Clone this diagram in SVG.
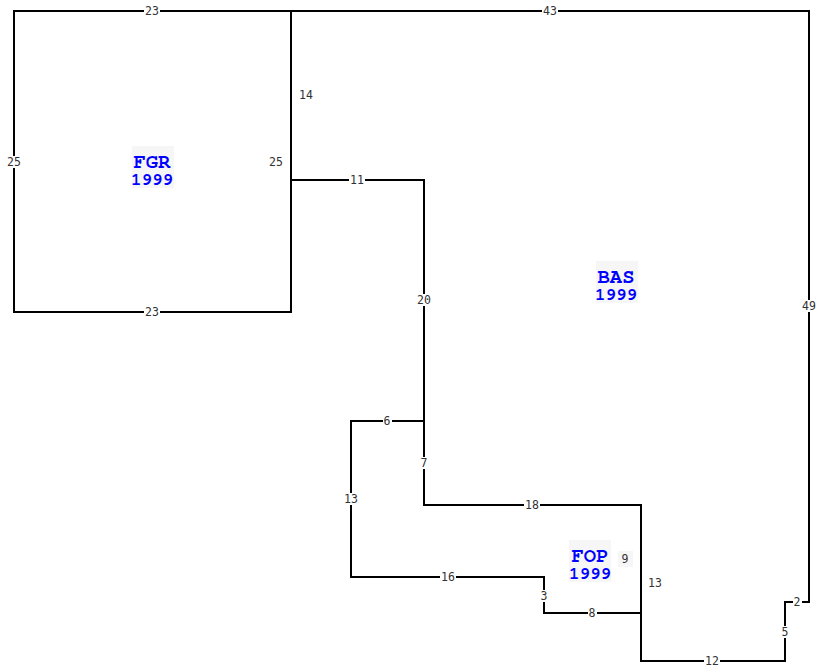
<svg xmlns="http://www.w3.org/2000/svg" width="825" height="671" viewBox="0 0 825 671">
<style>
.w{stroke:#000;stroke-width:2;fill:none;stroke-linecap:square}
.d{font-family:"DejaVu Sans Mono",monospace;font-size:11.5px;fill:#333;text-anchor:middle;dominant-baseline:central}
.bg{fill:#fff}
.tb{fill:#f6f6f6}
.t{font-family:"Nimbus Mono PS","FreeMono","Courier New","Liberation Mono",monospace;font-weight:bold;fill:#00f;text-anchor:middle}
.t1{font-size:20.5px}
.t2{font-size:17.5px}
</style>
<rect width="825" height="671" fill="#fff"/>
<g id="connectors">
<path class="w" d="M14 11H291V312H14Z"/>
<path class="w" d="M291 11H809V602H785V661H641V505H424V180H291"/>
<path class="w" d="M424 421H351V577H544V613H641"/>
</g>
<g id="labels">
<rect class="bg" x="144" y="5" width="16" height="12"/><text class="d" x="152" y="11">23</text>
<rect class="bg" x="542" y="5" width="16" height="12"/><text class="d" x="550" y="11">43</text>
<rect class="bg" x="6" y="156" width="16" height="12"/><text class="d" x="14" y="162">25</text>
<rect class="bg" x="144" y="306" width="16" height="12"/><text class="d" x="152" y="312">23</text>
<text class="d" x="306" y="95">14</text>
<text class="d" x="276" y="162">25</text>
<rect class="bg" x="349" y="174" width="16" height="12"/><text class="d" x="357" y="180">11</text>
<rect class="bg" x="416" y="294" width="16" height="12"/><text class="d" x="424" y="300">20</text>
<rect class="bg" x="801" y="300" width="16" height="12"/><text class="d" x="809" y="306">49</text>
<rect class="bg" x="383" y="415" width="9" height="12"/><text class="d" x="387" y="421">6</text>
<rect class="bg" x="420" y="457" width="9" height="12"/><text class="d" x="424" y="463">7</text>
<rect class="bg" x="343" y="493" width="16" height="12"/><text class="d" x="351" y="499">13</text>
<rect class="bg" x="524" y="499" width="16" height="12"/><text class="d" x="532" y="505">18</text>
<rect class="bg" x="440" y="571" width="16" height="12"/><text class="d" x="448" y="577">16</text>
<rect class="bg" x="540" y="590" width="9" height="12"/><text class="d" x="544" y="596">3</text>
<rect class="bg" x="588" y="607" width="9" height="12"/><text class="d" x="592" y="613">8</text>
<rect class="tb" x="618" y="551" width="15" height="16"/><text class="d" x="625" y="559">9</text>
<text class="d" x="655" y="583">13</text>
<rect class="bg" x="704" y="655" width="16" height="12"/><text class="d" x="712" y="661">12</text>
<rect class="bg" x="781" y="626" width="9" height="12"/><text class="d" x="785" y="632">5</text>
<rect class="bg" x="793" y="596" width="9" height="12"/><text class="d" x="797" y="602">2</text>
</g>
<g id="FGR">
<rect class="tb" x="132" y="146" width="42" height="42"/>
<text class="t t1" x="152" y="168">FGR</text>
<text class="t t2" x="152" y="185">1999</text>
</g>
<g id="BAS">
<rect class="tb" x="596" y="261" width="42" height="42"/>
<text class="t t1" x="616" y="283">BAS</text>
<text class="t t2" x="616" y="300">1999</text>
</g>
<g id="FOP">
<rect class="tb" x="569" y="540" width="42" height="42"/>
<text class="t t1" x="590" y="562">FOP</text>
<text class="t t2" x="590" y="579">1999</text>
</g>
</svg>
